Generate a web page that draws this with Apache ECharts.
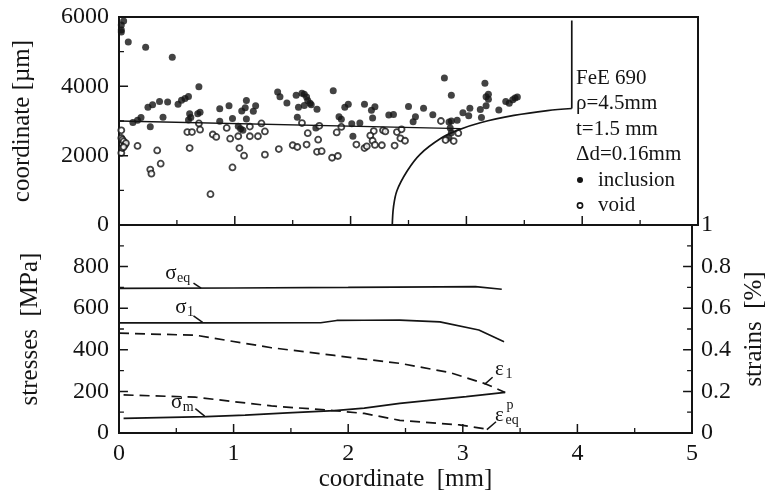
<!DOCTYPE html>
<html><head><meta charset="utf-8">
<script src="https://cdn.jsdelivr.net/npm/echarts@6/dist/echarts.min.js"></script>
<style>html,body{margin:0;padding:0;background:#fff}#c{width:775px;height:493px}</style>
</head><body><div id="c"></div>
<script>
// ---------- data ----------
const xTickValues = [0, 1, 2, 3, 4, 5];
const xMinorTicks = [0.5, 1.5, 2.5, 3.5, 4.5];
const posTicks = [0, 2000, 4000, 6000];
const posMinorTicks = [1000, 3000, 5000];
const stressTicks = [0, 200, 400, 600, 800, 1000];
const stressMinorTicks = [100, 300, 500, 700, 900];
const strainTicks = [0, 0.2, 0.4, 0.6, 0.8, 1];
const strainMinorTicks = [0.1, 0.3, 0.5, 0.7, 0.9];

const inclusions = [
 [0.02,5770],[0.02,5570],[0.02,5625],[0.04,5885],[0.08,5280],[0.23,5130],[0.46,4840],[0.69,3990],
 [0.12,2960],[0.16,3020],[0.19,3100],[0.27,2835],[0.25,3400],[0.29,3470],[0.35,3560],[0.42,3550],
 [0.38,3110],[0.51,3480],[0.54,3600],[0.57,3650],[0.60,3710],[0.61,3210],[0.62,3100],[0.60,3030],
 [0.68,3210],[0.70,3250],[0.87,3350],[0.95,3440],[0.87,2990],[0.98,3070],[1.06,3290],[1.09,3380],
 [1.10,3590],[1.16,3280],[1.18,3440],[1.03,2850],[1.05,2780],[1.07,2730],[1.10,3060],[1.37,3840],
 [1.39,3700],[1.45,3520],[1.53,3740],[1.58,3800],[1.60,3770],[1.62,3690],[1.63,3590],[1.65,3510],
 [1.66,3470],[1.55,3400],[1.60,3450],[1.71,3340],[1.54,3110],[1.70,2800],[1.85,3870],[1.95,3400],
 [1.98,3480],[1.90,3120],[1.92,3050],[2.01,2920],[2.08,2940],[2.12,3480],[2.02,2560],[2.21,3410],
 [2.18,3310],[2.19,3090],[2.33,3170],[2.37,3190],[2.50,3420],[2.54,2980],[2.56,3120],[2.63,3370],
 [2.71,3180],[2.87,3740],[2.81,4240],[2.85,2970],[2.87,3000],[2.92,3020],[2.86,2800],[2.87,2660],
 [2.85,2510],[2.97,3240],[3.02,3150],[3.03,3370],[3.12,3330],[3.13,3100],[3.17,3700],[3.17,3440],
 [3.16,4090],[3.19,3770],[3.19,3630],[3.28,3320],[3.34,3560],[3.37,3510],[3.40,3610],[3.42,3660],
 [3.44,3690]
];
const voids = [
 [0.02,2730],[0.02,2510],[0.03,2460],[0.04,2410],[0.05,2310],[0.06,2360],[0.02,2080],[0.03,2220],
 [0.04,2250],[0.16,2280],[0.33,2150],[0.27,1600],[0.28,1480],[0.36,1770],[0.59,2680],[0.63,2680],
 [0.61,2220],[0.69,2930],[0.70,2750],[0.79,890],[0.81,2610],[0.84,2540],[0.93,2800],[0.96,2490],
 [1.03,2560],[1.13,2560],[1.13,2840],[1.04,2220],[1.08,2000],[0.98,1660],[1.20,2560],[1.23,2930],
 [1.26,2700],[1.26,2030],[1.38,2190],[1.58,2940],[1.63,2650],[1.50,2300],[1.54,2250],[1.62,2320],
 [1.72,2460],[1.73,2860],[1.71,2110],[1.75,2130],[1.88,2670],[1.84,1940],[1.89,1990],[1.92,2830],
 [2.05,2320],[2.12,2220],[2.14,2270],[2.20,2710],[2.28,2730],[2.30,2700],[2.17,2580],[2.19,2430],
 [2.21,2310],[2.27,2300],[2.38,2290],[2.40,2680],[2.44,2760],[2.43,2500],[2.47,2430],[2.78,3000],
 [2.89,2420],[2.93,2650],[2.82,2450]
];
const midLine = [[0,3000],[2.95,2780]];
const notchArc = [[2.36,0],[2.37,510],[2.40,990],[2.49,1565],[2.60,2040],[2.78,2500],[2.92,2730],
 [3.12,2950],[3.41,3160],[3.70,3300],[3.91,3360]];
const notchWall = [[3.91,3360],[3.91,5900]];

const sigmaEq = [[0,695],[1,697],[2,700],[2.8,703],[3.11,704],[3.34,691]];
const sigma1  = [[0,529],[0.76,529],[1.76,530],[1.9,541],[2.14,542],[2.45,543],[2.8,534],[3.14,495],[3.36,439]];
const sigmaM  = [[0.04,70],[0.76,79],[1.1,86],[1.47,97],[1.88,108],[2.14,120],[2.45,142],[3.03,175],[3.37,195]];
const eps1    = [[0,0.48],[0.67,0.47],[1.33,0.41],[1.88,0.373],[2.14,0.355],[2.45,0.335],[2.89,0.29],[3.2,0.236],[3.37,0.195]];
const epsEqP  = [[0.04,0.183],[0.67,0.172],[1.33,0.13],[1.85,0.109],[2.14,0.094],[2.45,0.061],[2.97,0.039],[3.22,0.018]];

const infoLines = ['FeE 690', 'ρ=4.5mm', 't=1.5 mm', 'Δd=0.16mm'];
const legendNames = ['inclusion', 'void'];

const curveLabels = [
  {y: 1, main: 'σ', at: [0.454, 767], sub: 'eq', leader: [[0.65, 721], [0.716, 696]]},
  {y: 1, main: 'σ', at: [0.54, 605],  sub: '1',  leader: [[0.65, 563], [0.73, 532]]},
  {y: 1, main: 'σ', at: [0.504, 146], sub: 'm',  leader: [[0.666, 117], [0.753, 79]]},
  {y: 2, main: 'ε', at: [3.32, 0.307], sub: '1', leader: [[3.26, 0.268], [3.19, 0.234]]},
  {y: 2, main: 'ε', at: [3.32, 0.084], sub: 'eq', sup: 'p', leader: [[3.29, 0.054], [3.21, 0.016]]}
];

// ---------- chart ----------
const INK = '#141414';
const FONT = '"Liberation Serif", "DejaVu Serif", serif';
const chart = echarts.init(document.getElementById('c'), null, {renderer: 'canvas'});

const mkLine = () => ({show: true, onZero: false, lineStyle: {color: INK, width: 2}});
const lab = () => ({color: INK, fontFamily: FONT, fontSize: 24});
const nameStyle = () => ({color: INK, fontFamily: FONT, fontSize: 25});
const noTick = () => ({show: false});

function xAx(gridIndex, showLabels) {
  const o = {
    type: 'value', gridIndex, min: xTickValues[0], max: xTickValues[xTickValues.length - 1], interval: 1,
    axisLine: mkLine(), axisTick: noTick(), splitLine: {show: false},
    axisLabel: Object.assign({show: showLabels, margin: 9}, lab())
  };
  if (showLabels) Object.assign(o, {name: 'coordinate  [mm]', nameLocation: 'middle', nameGap: 30, nameTextStyle: nameStyle()});
  return o;
}

const lineSeries = (data, xi, yi, dashed, extra) => Object.assign({
  type: 'line', data, xAxisIndex: xi, yAxisIndex: yi, showSymbol: false, symbol: 'none',
  lineStyle: {color: INK, width: 1.7, type: dashed ? [10, 6] : 'solid'}
}, extra || {});

// tick marks drawn as tiny two-point line series on each axis's own scale
// (tick lengths in axis units: about 9 px major, 5 px minor)
const tickSeries = [];
function tick(xi, yi, a, b, w) {
  tickSeries.push({type: 'line', xAxisIndex: xi, yAxisIndex: yi, data: [a, b], showSymbol: false,
    symbol: 'none', silent: true, z: 6, lineStyle: {color: INK, width: w, type: 'solid'}});
}
const LEN = {xTop: [260, 144], xBot: [43, 24], yLeft: [0.078, 0.043]};
xTickValues.forEach(v => { tick(0, 0, [v, 0], [v, LEN.xTop[0]], 1.5); tick(1, 1, [v, 0], [v, LEN.xBot[0]], 1.5); });
xMinorTicks.forEach(v => { tick(0, 0, [v, 0], [v, LEN.xTop[1]], 1.3); tick(1, 1, [v, 0], [v, LEN.xBot[1]], 1.3); });
posTicks.forEach(v => tick(0, 0, [0, v], [LEN.yLeft[0], v], 1.5));
posMinorTicks.forEach(v => tick(0, 0, [0, v], [LEN.yLeft[1], v], 1.3));
stressTicks.forEach(v => tick(1, 1, [0, v], [LEN.yLeft[0], v], 1.5));
stressMinorTicks.forEach(v => tick(1, 1, [0, v], [LEN.yLeft[1], v], 1.3));
strainTicks.forEach(v => tick(1, 2, [5, v], [5 - LEN.yLeft[0], v], 1.5));
strainMinorTicks.forEach(v => tick(1, 2, [5, v], [5 - LEN.yLeft[1], v], 1.3));

function buildOption(graphic) {
  return {
    animation: false,
    backgroundColor: '#fff',
    grid: [
      {left: 119, right: 77, top: 17, height: 208, show: true, borderColor: INK, borderWidth: 2},
      {left: 119, right: 77, top: 225, height: 208, show: true, borderColor: INK, borderWidth: 2}
    ],
    xAxis: [xAx(0, false), xAx(1, true)],
    yAxis: [
      {type: 'value', gridIndex: 0, min: 0, max: 6000, interval: 2000,
       axisLine: mkLine(), axisTick: noTick(), splitLine: {show: false},
       axisLabel: Object.assign({margin: 10, formatter: v => String(v)}, lab()),
       name: 'coordinate [µm]', nameLocation: 'middle', nameRotate: 90, nameGap: 84, nameTextStyle: nameStyle()},
      {type: 'value', gridIndex: 1, min: 0, max: 1000, interval: 200,
       axisLine: mkLine(), axisTick: noTick(), splitLine: {show: false},
       axisLabel: Object.assign({margin: 10, formatter: v => v === 1000 ? '' : String(v)}, lab()),
       name: 'stresses  [MPa]', nameLocation: 'middle', nameRotate: 90, nameGap: 76, nameTextStyle: nameStyle()},
      {type: 'value', gridIndex: 1, position: 'right', min: 0, max: 1, interval: 0.2,
       axisLine: mkLine(), axisTick: noTick(), splitLine: {show: false},
       axisLabel: Object.assign({margin: 9, formatter: v => String(Math.round(v * 10) / 10)}, lab()),
       name: 'strains  [%]', nameLocation: 'middle', nameRotate: 90, nameGap: 50, nameTextStyle: nameStyle()}
    ],
    series: [
      lineSeries(midLine, 0, 0, false, {lineStyle: {color: INK, width: 1.4}}),
      lineSeries(notchArc, 0, 0, false, {smooth: 0.35}),
      lineSeries(notchWall, 0, 0, false),
      {type: 'scatter', data: inclusions, xAxisIndex: 0, yAxisIndex: 0, symbol: 'circle', symbolSize: 7,
       itemStyle: {color: INK}},
      {type: 'scatter', data: voids, xAxisIndex: 0, yAxisIndex: 0, symbol: 'circle', symbolSize: 6,
       itemStyle: {color: '#fff', borderColor: INK, borderWidth: 1.8}},
      lineSeries(sigmaEq, 1, 1, false),
      lineSeries(sigma1, 1, 1, false),
      lineSeries(sigmaM, 1, 1, false),
      lineSeries(eps1, 1, 2, true),
      lineSeries(epsEqP, 1, 2, true)
    ].concat(tickSeries),
    graphic: graphic
  };
}

chart.setOption(buildOption([]));

// ---------- annotations (positions through the axes' own scales) ----------
const g = [];
const toPx = (yi, p) => chart.convertToPixel({xAxisIndex: 1, yAxisIndex: yi}, p);
const seg = (x1, y1, x2, y2, w) => ({type: 'line', silent: true, z: 10,
  shape: {x1, y1, x2, y2}, style: {stroke: INK, lineWidth: w || 1.5}});
const txt = (x, y, text, size, align) => ({
  type: 'text', x, y, silent: true, z: 10,
  style: {text, fill: INK, font: size + 'px ' + FONT, align: align || 'left', verticalAlign: 'middle'}
});
curveLabels.forEach(c => {
  const p = toPx(c.y, c.at);
  g.push(txt(p[0], p[1], c.main, 21, 'center'));
  g.push(txt(p[0] + 6, p[1] + 5, c.sub, 14, 'left'));
  if (c.sup) g.push(txt(p[0] + 7, p[1] - 10, c.sup, 14, 'left'));
  const a = toPx(c.y, c.leader[0]), b = toPx(c.y, c.leader[1]);
  g.push(seg(a[0], a[1], b[0], b[1]));
});
const infoLeft = 576, infoTop = 78, infoStep = 25.5;
infoLines.forEach((t, i) => g.push(txt(infoLeft, infoTop + i * infoStep, t, 21, 'left')));
legendNames.forEach((t, i) => {
  const y = infoTop + (infoLines.length + i) * infoStep;
  g.push(i === 0
    ? {type: 'circle', silent: true, z: 10, shape: {cx: infoLeft + 4, cy: y, r: 3}, style: {fill: INK}}
    : {type: 'circle', silent: true, z: 10, shape: {cx: infoLeft + 4, cy: y, r: 2.6}, style: {fill: '#fff', stroke: INK, lineWidth: 1.6}});
  g.push(txt(infoLeft + 22, y, t, 21, 'left'));
});
chart.setOption(buildOption(g), true);
</script></body></html>
